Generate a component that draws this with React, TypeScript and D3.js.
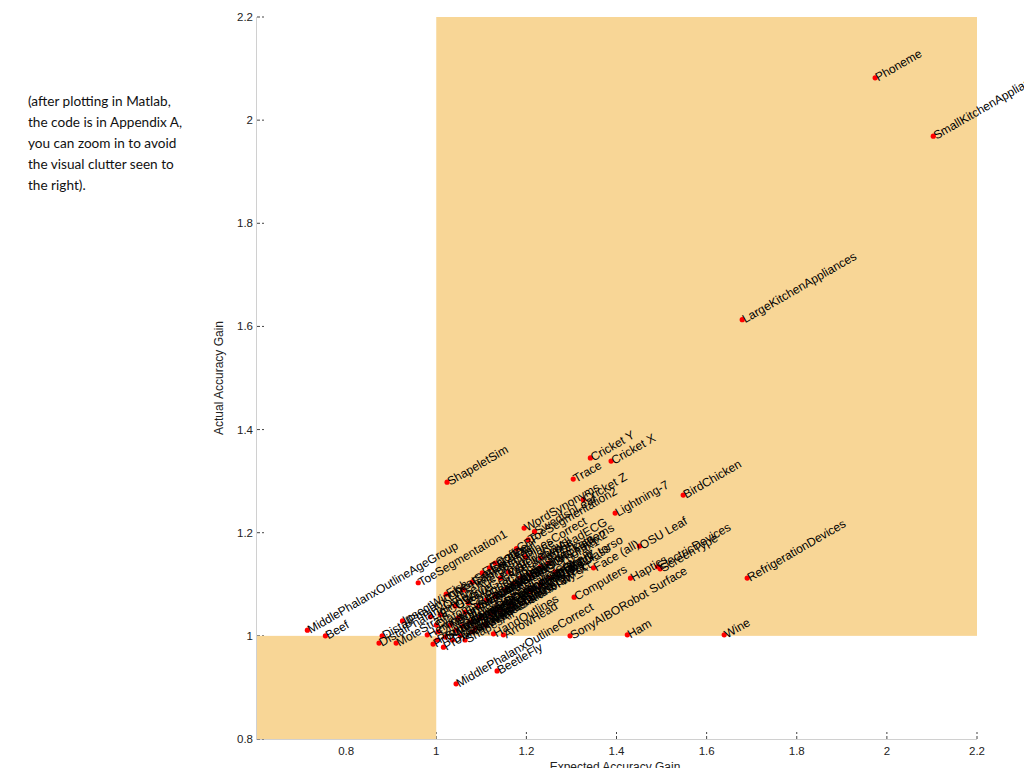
import React from "react";
import * as d3 from "d3";

const names = [
  "Phoneme", "SmallKitchenAppliances", "LargeKitchenAppliances", "ShapeletSim", "Cricket Y", "Cricket X",
  "Trace", "Cricket Z", "Lightning-7", "BirdChicken", "OSU Leaf", "Face (all)", "Haptics", "ElectricDevices",
  "ScreenType", "RefrigerationDevices", "Computers", "SonyAIBORobot Surface", "Ham", "Wine",
  "MiddlePhalanxOutlineAgeGroup", "Beef", "ToeSegmentation1", "DistalPhalanxTW", "DistalPhalanxOutlineAgeGroup",
  "MoteStrain", "InsectWingbeatSound", "MiddlePhalanxOutlineCorrect", "BeetleFly", "HandOutlines", "ArrowHead",
  "ProximalPhalanxOutlineCorrect", "ProximalPhalanxOutlineAgeGroup", "WordSynonyms", "SwedishLeaf",
  "ToeSegmentation2", "TwoLeadECG", "CBF", "Plane", "ECG200", "FaceFour", "Earthquakes", "Fish", "InlineSkate",
  "Herring", "DiatomSizeReduction", "Lighting2", "ChlorineConcentration", "uWaveGestureLibrary_X",
  "NonInvasiveFatalECG_Thorax1", "NonInvasiveFatalECG_Thorax2", "Gun-Point", "StarLightCurves",
  "FacesUCR", "Mallat", "50words", "Worms", "Meat", "Symbols", "Two_Patterns",
  "ItalyPowerDemand", "uWaveGestureLibrary_Y", "SonyAIBORobotSurfaceII", "uWaveGestureLibrary_Z", "yoga", "FordA",
  "FordB", "WormsTwoClass",
  "CinC_ECG_torso", "Adiac", "Car", "Strawberry", "OliveOil",
  "DistalPhalanxOutlineCorrect", "MedicalImages", "ShapesAll", "synthetic_control", "MiddlePhalanxTW", "ECG5000",
  "UWaveGestureLibraryAll", "ECGFiveDays", "wafer", "Coffee", "PhalangesOutlinesCorrect",
  "ProximalPhalanxTW",
];

const expectedGain = [
  1.974, 2.103, 1.679, 1.024, 1.342, 1.388,
  1.304, 1.326, 1.397, 1.548, 1.451, 1.349, 1.431, 1.491,
  1.497, 1.690, 1.306, 1.297, 1.424, 1.639,
  0.714, 0.754, 0.960, 0.880, 0.873,
  0.911, 0.925, 1.044, 1.135, 1.127, 1.149,
  1.016, 0.993, 1.195, 1.218,
  1.204, 1.231, 1.178, 1.198, 1.102, 1.118, 1.080, 1.022, 1.231,
  0.980, 1.000, 0.987, 1.071, 1.080, 1.031, 1.049, 1.064, 1.093,
  1.111, 1.131, 1.153, 1.171, 1.186, 1.209, 1.249,
  1.044, 1.058, 1.075, 1.098, 1.120, 1.142, 1.164, 1.209,
  1.231, 1.253, 1.264, 1.020, 1.004,
  1.036, 1.053, 1.064, 1.087, 1.109, 1.009,
  1.042, 1.142, 1.160, 1.131, 1.060,
  1.002,
];

const actualGain = [
  2.082, 1.969, 1.613, 1.298, 1.345, 1.339,
  1.304, 1.264, 1.238, 1.273, 1.174, 1.132, 1.112, 1.134,
  1.130, 1.112, 1.075, 1.000, 1.002, 1.002,
  1.011, 1.000, 1.103, 1.000, 0.986,
  0.986, 1.029, 0.907, 0.932, 1.004, 1.002,
  0.978, 0.984, 1.209, 1.202,
  1.186, 1.151, 1.169, 1.153, 1.122, 1.132, 1.104, 1.081, 1.134,
  1.002, 1.021, 1.037, 1.064, 1.008, 1.021, 1.035, 1.046, 1.058,
  1.070, 1.077, 1.089, 1.101, 1.112, 1.118, 1.141,
  1.011, 1.019, 1.027, 1.035, 1.042, 1.050, 1.062, 1.085,
  1.099, 1.112, 1.124, 0.998, 1.008,
  0.992, 1.000, 0.992, 1.015, 1.021, 1.041,
  1.058, 1.112, 1.124, 1.141, 1.089,
  0.992,
];

const xTicks = [0.8, 1, 1.2, 1.4, 1.6, 1.8, 2, 2.2];
const yTicks = [0.8, 1, 1.2, 1.4, 1.6, 1.8, 2, 2.2];
const xDomain = [0.6, 2.2];
const yDomain = [0.8, 2.2];

const noteLines = [
  "(after plotting in Matlab,",
  "the code is in Appendix A,",
  "you can zoom in to avoid",
  "the visual clutter seen to",
  "the right).",
];

const xLabel = "Expected Accuracy Gain";
const yLabel = "Actual Accuracy Gain";

export default function App() {
  const x = d3.scaleLinear().domain(xDomain).range([256, 977]);
  const y = d3.scaleLinear().domain(yDomain).range([739, 17]);
  const fill = "#F8D696";
  const font = "'Liberation Sans', Arial, Helvetica, sans-serif";
  const pts = names.map((n, i) => ({ n, ex: expectedGain[i], ac: actualGain[i] }));

  return (
    <svg
      width={1024}
      height={768}
      style={{ position: "absolute", left: 0, top: 0, background: "#fff" }}
      fontFamily={font}
    >
      {/* note text */}
      <g fontFamily="Lato, 'Open Sans', sans-serif" fontSize={13.6} fill="#111">
        {noteLines.map((t, i) => (
          <text key={i} x={28} y={106 + i * 21}>{t}</text>
        ))}
      </g>

      {/* axes */}
      <line x1={x(0.6) + 0.5} x2={x(0.6) + 0.5} y1={y(2.2)} y2={y(0.8)} stroke="#d0d0d0" strokeWidth={1} />
      <line x1={x(0.6)} x2={x(2.2)} y1={y(0.8) + 0.5} y2={y(0.8) + 0.5} stroke="#d0d0d0" strokeWidth={1} />
      {yTicks.map((t) => (
        <g key={"y" + t}>
          <line x1={x(0.6) + 1} x2={x(0.6) + 8} y1={y(t)} y2={y(t)} stroke="#444" strokeWidth={1} strokeDasharray="3,2" />
          <text x={253} y={y(t)} dy="0.35em" textAnchor="end" fontSize={11.5} fill="#222">{String(t)}</text>
        </g>
      ))}
      {xTicks.map((t) => (
        <g key={"x" + t}>
          <line x1={x(t)} x2={x(t)} y1={y(0.8)} y2={y(0.8) - 7} stroke="#444" strokeWidth={1} strokeDasharray="3,2" />
          <text x={x(t)} y={755} textAnchor="middle" fontSize={11.5} fill="#222">{String(t)}</text>
        </g>
      ))}
      <text x={615} y={771} textAnchor="middle" fontSize={12} fill="#222">{xLabel}</text>
      <text transform={`translate(223,${(y(2.2) + y(0.8)) / 2}) rotate(-90)`} textAnchor="middle" fontSize={12} fill="#222">{yLabel}</text>

      {/* regions */}
      <rect x={x(1)} y={y(2.2)} width={x(2.2) - x(1)} height={y(1) - y(2.2)} fill={fill} />
      <rect x={x(0.6) + 1} y={y(1)} width={x(1) - x(0.6) - 1} height={y(0.8) - y(1)} fill={fill} />

      {/* points */}
      {pts.map((p, i) => (
        <circle key={"c" + i} cx={x(p.ex)} cy={y(p.ac)} r={2.6} fill="#ff0000" />
      ))}
      {pts.map((p, i) => (
        <text
          key={"t" + i}
          transform={`translate(${x(p.ex) + 1},${y(p.ac)}) rotate(-30)`}
          dy="0.35em"
          fontSize={12}
          fill="#000"
        >
          {p.n}
        </text>
      ))}
    </svg>
  );
}
